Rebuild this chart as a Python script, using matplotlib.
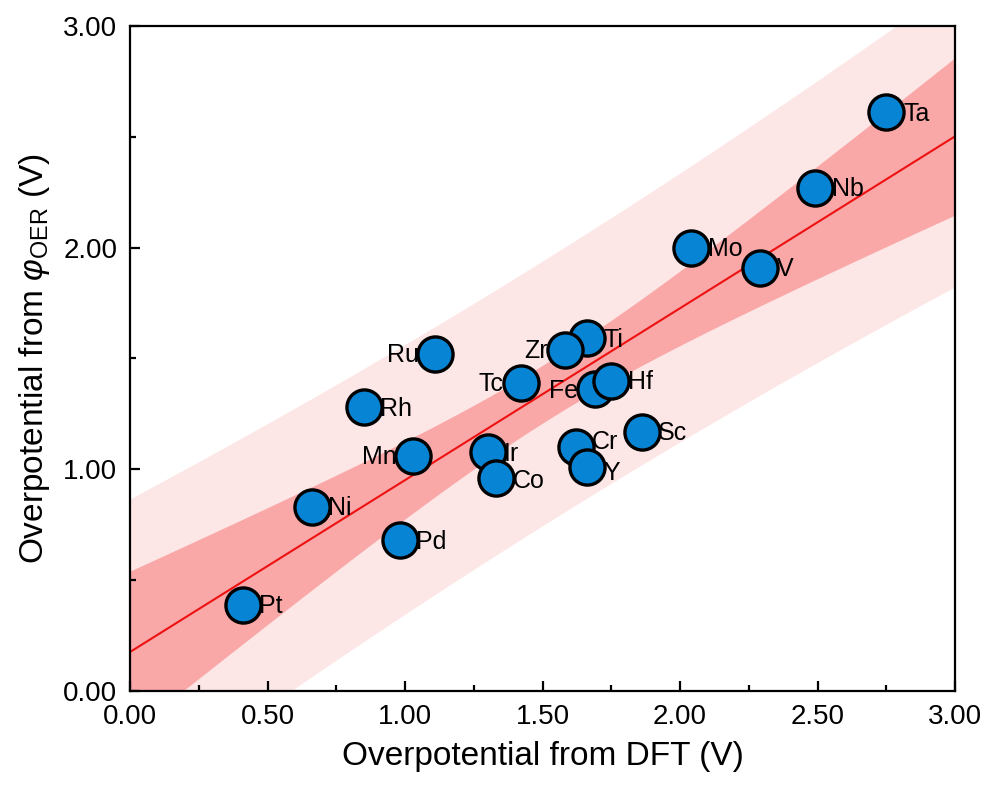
import numpy as np
import matplotlib
matplotlib.use('Agg')
import matplotlib.pyplot as plt
from matplotlib.ticker import MultipleLocator, FormatStrFormatter

# data (order = drawing order, later ones on top)
elements = ['Pt', 'Ni', 'Pd', 'Mn', 'Rh', 'Ru', 'Ir', 'Co', 'Tc', 'Ti',
            'Zr', 'Fe', 'Hf', 'Cr', 'Y', 'Sc', 'Mo', 'V', 'Nb', 'Ta']
eta_dft = [0.41, 0.66, 0.98, 1.03, 0.85, 1.11, 1.30, 1.33, 1.42, 1.66,
           1.58, 1.69, 1.75, 1.62, 1.66, 1.86, 2.04, 2.29, 2.49, 2.75]
eta_phi = [0.39, 0.83, 0.68, 1.06, 1.28, 1.52, 1.08, 0.96, 1.39, 1.59,
           1.54, 1.36, 1.40, 1.10, 1.01, 1.17, 2.00, 1.91, 2.27, 2.61]
left_labels = ['Ru', 'Tc', 'Zr', 'Fe', 'Mn']
# small vertical nudges (points) for crowded labels
nudge = {'Cr': 4, 'Y': -4, 'Co': -2, 'Ir': -2}

plt.rcParams['font.family'] = ['Liberation Sans', 'DejaVu Sans']
plt.rcParams['mathtext.fontset'] = 'custom'
plt.rcParams['mathtext.rm'] = 'Liberation Sans'
plt.rcParams['mathtext.it'] = 'Liberation Sans:italic'

x = np.array(eta_dft)
y = np.array(eta_phi)
n = len(x)

# linear fit with 95% confidence and prediction bands
slope, intercept = np.polyfit(x, y, 1)
resid = y - (slope * x + intercept)
s = np.sqrt(np.sum(resid ** 2) / (n - 2))
t95 = 2.101  # t(0.975, 18)
sxx = np.sum((x - x.mean()) ** 2)
xx = np.linspace(0, 3, 200)
yy = slope * xx + intercept
conf = t95 * s * np.sqrt(1 / n + (xx - x.mean()) ** 2 / sxx)
pred = t95 * s * np.sqrt(1 + 1 / n + (xx - x.mean()) ** 2 / sxx)

fig = plt.figure(figsize=(9.87, 7.89), dpi=100)
ax = fig.add_axes([0.1317, 0.1242, 0.836, 0.843])

ax.fill_between(xx, yy - pred, yy + pred, color='#fde6e6', lw=0, zorder=1)
ax.fill_between(xx, yy - conf, yy + conf, color='#f9a7a7', lw=0, zorder=1.5)
ax.plot(xx, yy, color='#ee1111', lw=1.5, zorder=2)

ax.scatter(x, y, s=640, facecolor='#0784d4', edgecolor='black',
           linewidth=2.4, zorder=3)

for name, xi, yi in zip(elements, x, y):
    dy = nudge.get(name, -1)
    if name in left_labels:
        ax.annotate(name, (xi, yi), xytext=(-12, dy), textcoords='offset points',
                    ha='right', va='center', fontsize=18, zorder=2.5)
    else:
        ax.annotate(name, (xi, yi), xytext=(12, dy), textcoords='offset points',
                    ha='left', va='center', fontsize=18, zorder=4)

ax.set_xlim(0, 3)
ax.set_ylim(0, 3)
ax.xaxis.set_major_locator(MultipleLocator(0.5))
ax.xaxis.set_minor_locator(MultipleLocator(0.25))
ax.yaxis.set_major_locator(MultipleLocator(1.0))
ax.yaxis.set_minor_locator(MultipleLocator(0.5))
ax.xaxis.set_major_formatter(FormatStrFormatter('%.2f'))
ax.yaxis.set_major_formatter(FormatStrFormatter('%.2f'))
ax.tick_params(which='both', direction='in', width=1.6, labelsize=20, pad=9)
ax.tick_params(which='major', length=7)
ax.tick_params(which='minor', length=4)
for sp in ax.spines.values():
    sp.set_linewidth(1.6)

ax.set_xlabel('Overpotential from DFT (V)', fontsize=24, labelpad=8)
ax.set_ylabel(r'Overpotential from $\varphi_{\mathrm{OER}}$ (V)', fontsize=24,
              labelpad=8)

fig.savefig('out.png', dpi=100)
